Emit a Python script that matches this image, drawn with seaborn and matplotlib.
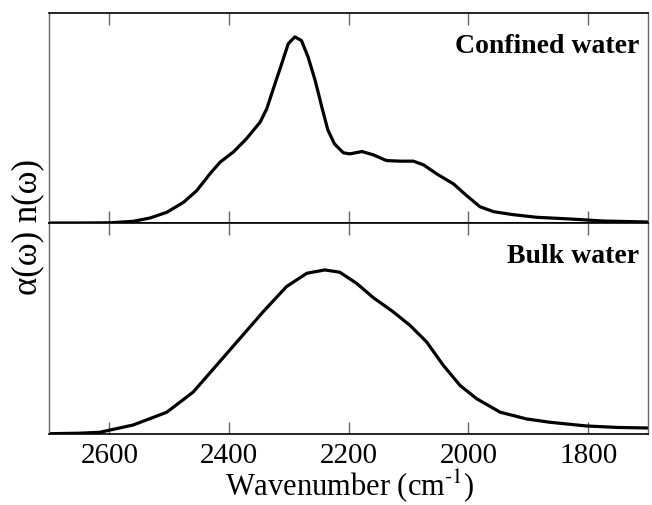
import numpy as np
import pandas as pd
import matplotlib
matplotlib.use("Agg")
import matplotlib.pyplot as plt
import seaborn as sns

# === Data (arbitrary units) ===
confined_x = [2700, 2650, 2599, 2560, 2532, 2504, 2476, 2454, 2432, 2415, 2393,
              2371, 2348, 2337, 2326, 2312, 2301, 2290, 2279, 2268, 2256, 2245,
              2235, 2224, 2209, 2198, 2178, 2159, 2137, 2114, 2092, 2075, 2053,
              2025, 2003, 1981, 1958, 1925, 1886, 1830, 1775, 1700]
confined_y = [0.0, 0.0, 0.2, 1.7, 5, 10.7, 20.7, 32.3, 49, 60.7, 70.7,
              84, 100.7, 114, 134, 159, 179, 185.7, 182, 165.7, 142, 115.7,
              93, 79, 70, 69, 71.3, 68, 62.3, 61.7, 61.7, 58, 49,
              39, 27.3, 16.3, 11.3, 8.3, 5.7, 4, 2, 1]

bulk_x = [2700, 2650, 2616, 2560, 2504, 2460, 2421, 2382, 2343, 2304, 2270,
          2240, 2215, 2187, 2159, 2126, 2098, 2070, 2042, 2014, 1986, 1947,
          1903, 1864, 1803, 1750, 1700]
bulk_y = [0.3, 0.8, 1.7, 9, 21.7, 41.7, 68.3, 95, 121.7, 146.7, 160,
          163.3, 161, 150, 135.7, 121.7, 108.3, 91.7, 68.3, 48.3, 35, 21.7,
          15, 11.7, 8, 6.5, 6]

panels = [("Confined water", confined_x, confined_y),
          ("Bulk water", bulk_x, bulk_y)]

sns.set_style("white")
plt.rcParams['font.family'] = ['Liberation Serif', 'DejaVu Serif']
plt.rcParams['mathtext.fontset'] = 'stix'
plt.rcParams['text.color'] = 'black'
plt.rcParams['xtick.labelcolor'] = 'black'

fig = plt.figure(figsize=(6.52, 5.06), dpi=100)
ax_top = fig.add_axes([0.0759, 0.5573, 0.918, 0.4160])
ax_bot = fig.add_axes([0.0759, 0.1403, 0.918, 0.4170], sharex=ax_top)

for ax, (label, xs, ys) in zip([ax_top, ax_bot], panels):
    df = pd.DataFrame({"wavenumber": xs, "signal": ys})
    sns.lineplot(data=df, x="wavenumber", y="signal", ax=ax, color="black",
                 linewidth=2.3, sort=False, solid_joinstyle="round")
    ax.set_xlim(2700, 1700)
    ax.set_ylim(0, 210)
    ax.set_yticks([])
    ax.set_ylabel("")
    ax.set_xlabel("")
    ax.set_xticks([2600, 2400, 2200, 2000, 1800])
    ax.tick_params(axis="x", direction="in", top=True, bottom=True,
                   length=8.5, width=1, color="0.4", labelsize=21, pad=6,
                   labelcolor="black")
    for side in ["left", "right"]:
        ax.spines[side].set_color("0.4")
        ax.spines[side].set_linewidth(1)
    for side in ["top", "bottom"]:
        ax.spines[side].set_color("black")
        ax.spines[side].set_linewidth(1.2)
    ax.text(0.985, 0.845, label, transform=ax.transAxes, ha="right",
            va="center", fontsize=20, fontweight="bold", color="black")

ax_top.tick_params(axis="x", labelbottom=False)

fig.text(0.042, 0.552, "α(ω) n(ω)", rotation=90, ha="center", va="center",
         fontsize=25, color="black")
fig.text(0.537, 0.04, "Wavenumber (cm$^{\\text{-1}}$)", ha="center",
         va="center", fontsize=22, color="black")

fig.savefig("out.png", dpi=100)
